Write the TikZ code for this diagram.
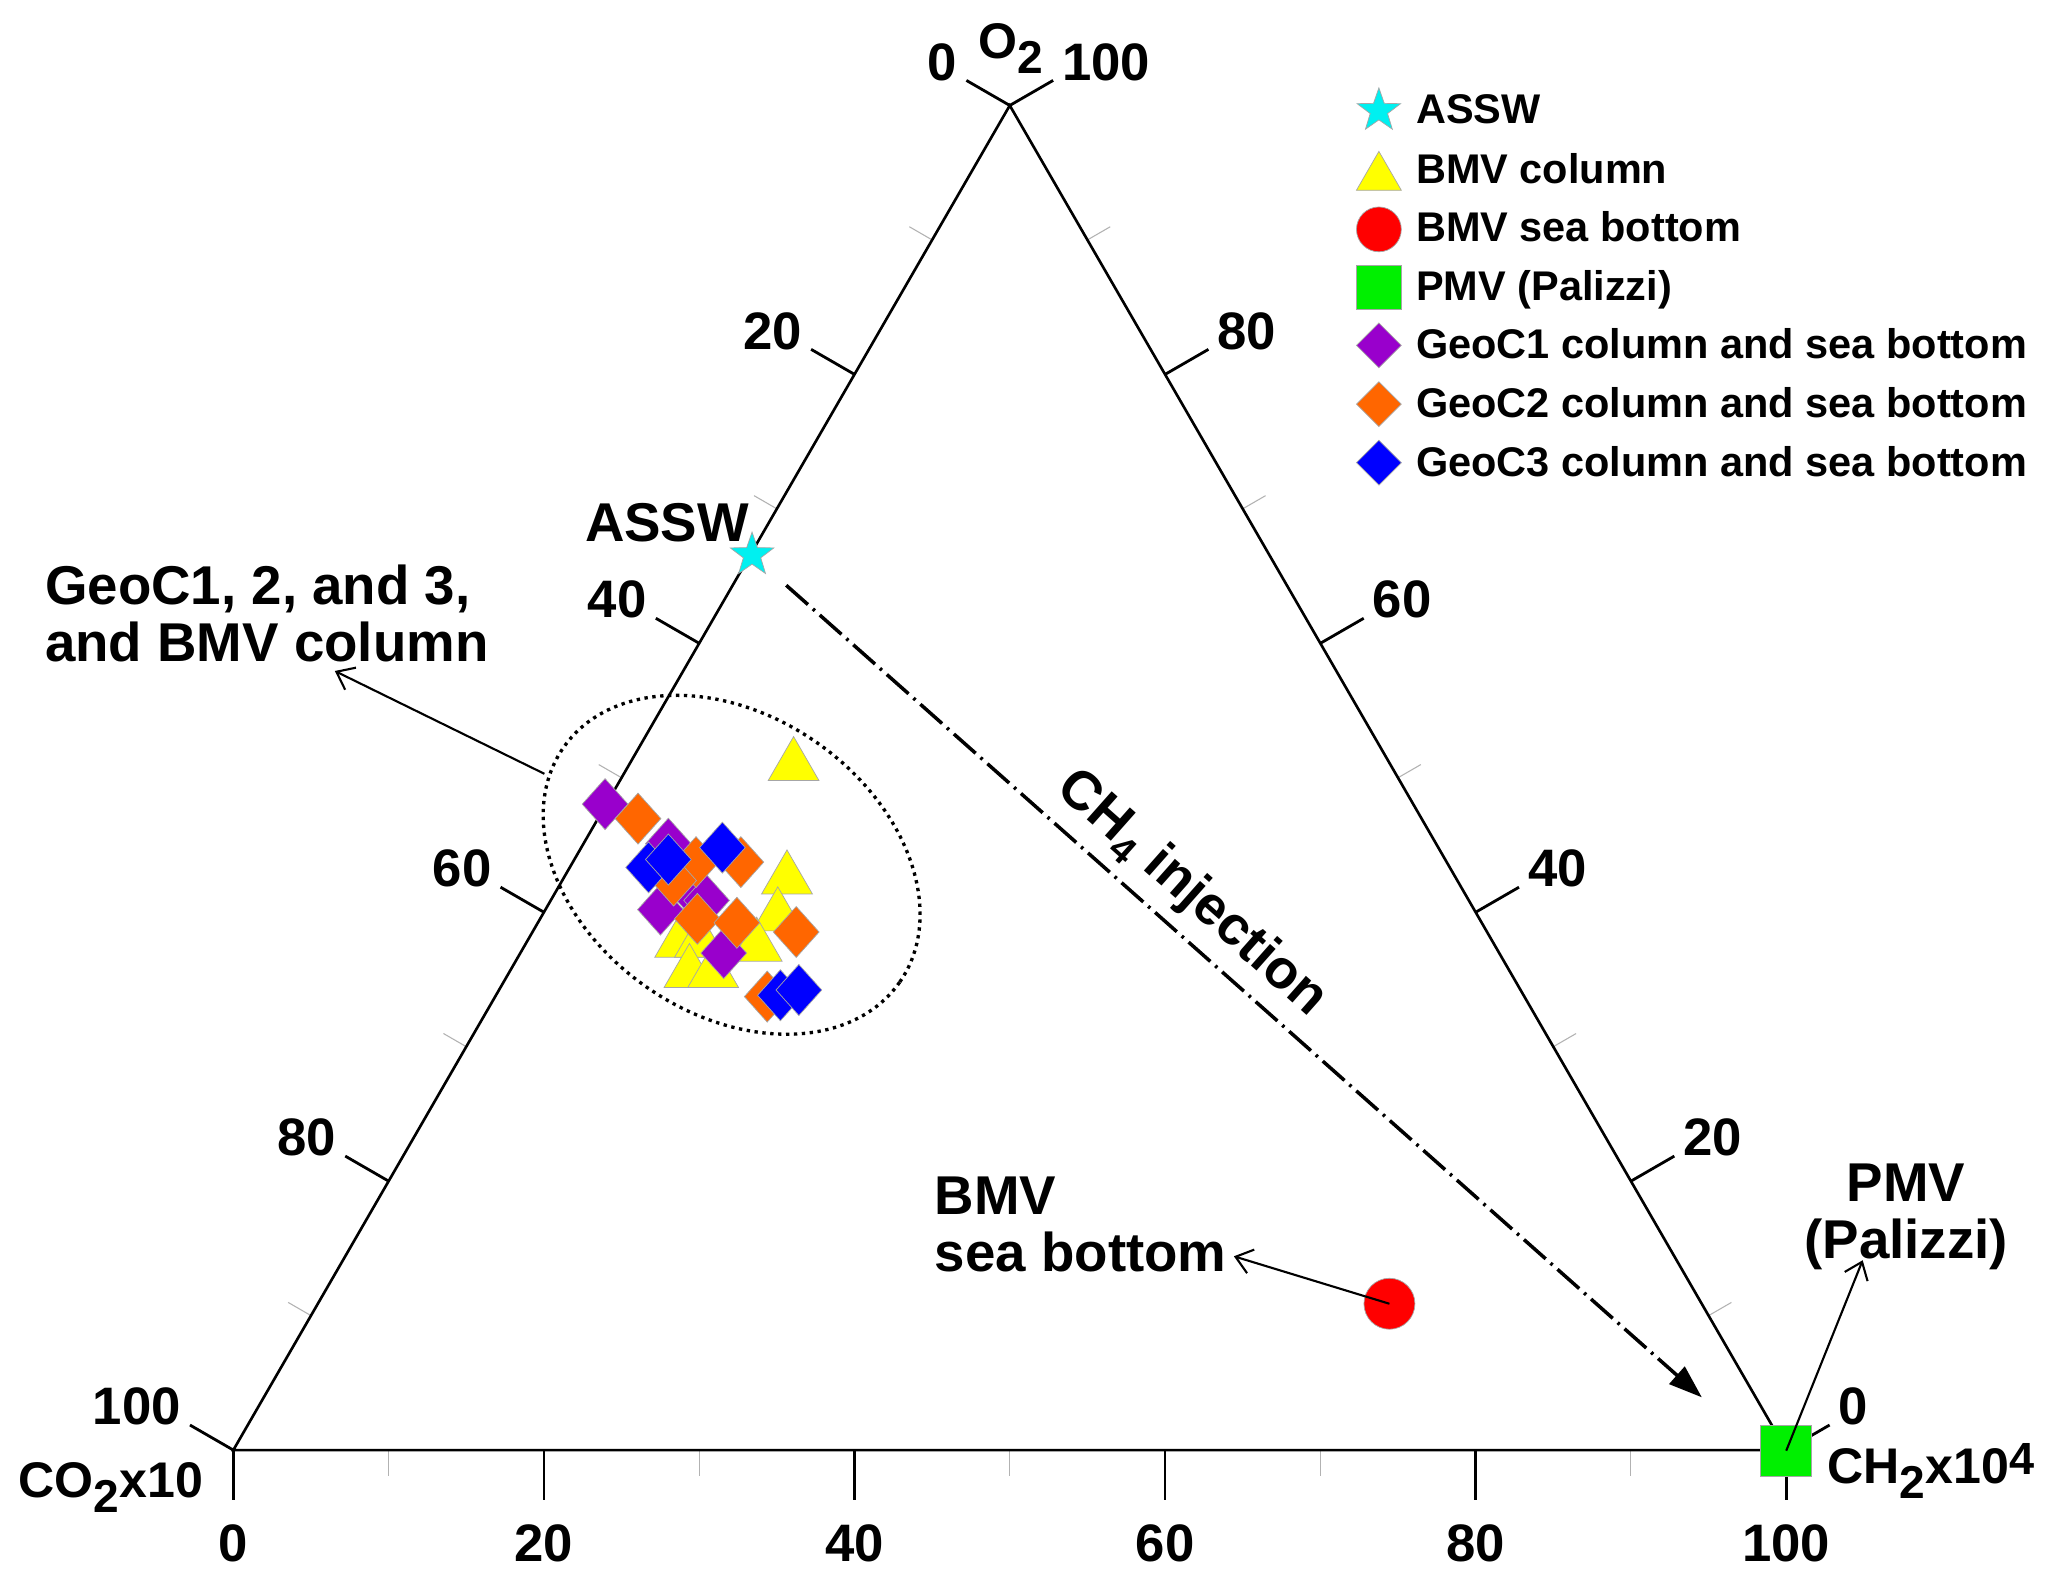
\documentclass[tikz,border=0pt]{standalone}
\usepackage{fontspec}
\setmainfont{Liberation Sans}
\usetikzlibrary{arrows.meta}
\usetikzlibrary{shapes.geometric}
\usetikzlibrary{calc}

\definecolor{asswcyan}{RGB}{0,240,240}
\definecolor{bmvyellow}{RGB}{255,255,0}
\definecolor{bmvred}{RGB}{255,0,0}
\definecolor{pmvgreen}{RGB}{0,240,0}
\definecolor{geoca}{RGB}{153,0,204}
\definecolor{geocb}{RGB}{255,102,0}
\definecolor{geocc}{RGB}{0,0,255}

\newcommand{\dsub}[1]{\raisebox{-0.3em}{\scalebox{0.92}{#1}}}
\newcommand{\usup}[1]{\raisebox{0.17em}{\scalebox{0.9}{#1}}}

\tikzset{
  axisline/.style={line width=1.5pt},
  majtick/.style={line width=1.6pt},
  mintick/.style={line width=0.6pt, gray!60},
  ticklbl/.style={font=\fontsize{30}{30}\selectfont\bfseries, inner sep=0pt},
  axname/.style={font=\fontsize{28.5}{28.5}\selectfont\bfseries, inner sep=0pt},
  annot/.style={font=\fontsize{31.1}{32.25}\selectfont\bfseries, inner sep=0pt},
  lgtxt/.style={font=\fontsize{23.6}{23.6}\selectfont\bfseries, inner sep=0pt, anchor=base west},
  mk/.style={draw=gray!70, line width=0.4pt, inner sep=0pt, outer sep=0pt},
  starmk/.style={mk, star, star points=5, star point ratio=2.5, minimum size=26pt, fill=asswcyan},
  trimk/.style={mk, regular polygon, regular polygon sides=3, fill=bmvyellow},
  circmk/.style={mk, circle, fill=bmvred},
  sqmk/.style={mk, rectangle, fill=pmvgreen},
  diamk/.style={mk, diamond},
  dotline/.style={line width=1.9pt, dash pattern=on 1.9pt off 2.6pt},
  ch4line/.style={line width=2pt, dash pattern=on 16.5pt off 3.75pt on 1.5pt off 3.75pt, shorten <=26pt, -{Triangle[length=19pt,width=13pt]}},
  pointer/.style={line width=1.2pt, -{Straight Barb[length=9pt,width=14pt]}},
}

\begin{document}
\begin{tikzpicture}[x=0.75pt,y=0.75pt,yscale=-1,xscale=1]
\useasboundingbox (0,0) rectangle (1568,1199);
\fill[white] (0,0) rectangle (1568,1199);

%Corners of the ternary triangle
\coordinate (A) at (177,1100);
\coordinate (B) at (1355,1100);
\coordinate (C) at (766,80);

%Minor ticks
\foreach \v [evaluate=\v as \f using \v/100] in {10,30,50,70,90}{
  \draw[mintick] ($(A)!\f!(B)$) -- ++(0,20);
  \draw[mintick] ($(C)!\f!(A)$) -- ++(-17.3,-10);
  \draw[mintick] ($(B)!\f!(C)$) -- ++(17.3,-10);
}

%Triangle
\draw[axisline] (A) -- (B) -- (C) -- cycle;

%Major ticks and numbers
\foreach \v [evaluate=\v as \f using \v/100] in {0,20,40,60,80,100}{
  \draw[majtick] ($(A)!\f!(B)$) -- ++(0,38);
  \node[ticklbl, anchor=north] (bt\v) at ($(A)!\f!(B)+(0,56)$) {\v};
  \draw[majtick] ($(C)!\f!(A)$) -- ++(-32.9,-19);
  \node[ticklbl, anchor=east] (lt\v) at ($(C)!\f!(A)+(-39.6,-33)$) {\v};
  \draw[majtick] ($(B)!\f!(C)$) -- ++(32.9,-19);
  \node[ticklbl, anchor=west] (rt\v) at ($(B)!\f!(C)+(39.6,-33)$) {\v};
}

%Corner names
\node[axname, anchor=base west] (o2lbl) at (742,44) {O\dsub{2}};
\node[axname, anchor=base west] (co2lbl) at (14,1136) {CO\dsub{2}x10};
\node[axname, anchor=base west] (ch2lbl) at (1386,1125) {CH\dsub{2}x10\usup{4}};

%Cluster
\draw[dotline, rotate around={35:(555,656)}] (555,656) ellipse (155.5 and 113);

%ASSW and CH4 injection
\node[starmk] (assw) at (570.5,421) {};
\coordinate (ch4tip) at (1291,1060);
\draw[ch4line] (assw.center) -- (ch4tip);
\node[annot, rotate=-41.55] (ch4lbl) at (904,678) {CH\textsubscript{4} injection};

%BMV column
\foreach \x/\y [count=\i] in {602/581, 597/667, 590/695, 516/715, 531/715, 574/718, 523/738, 541/738}
  \node[trimk, minimum size=33.4pt] (bc\i) at (\x,\y) {};

%GeoC1
\foreach \x/\y [count=\i] in {459/610, 507/640, 501/690, 528/680, 536/683, 549/723}
  \node[diamk, fill=geoca, minimum width=26pt, minimum height=29pt] (ga\i) at (\x,\y) {};
%GeoC2
\foreach \x/\y [count=\i] in {484/621, 528/654, 511/668, 562/654, 529/697, 559/700, 604/707, 582/756}
  \node[diamk, fill=geocb, minimum width=26pt, minimum height=29pt] (gb\i) at (\x,\y) {};
%GeoC3
\foreach \x/\y [count=\i] in {492/658, 507/652, 548/643, 592/755, 606/751}
  \node[diamk, fill=geocc, minimum width=26pt, minimum height=29pt] (gc\i) at (\x,\y) {};

%BMV sea bottom, PMV
\node[circmk, minimum size=29pt] (bmvsb) at (1054,989) {};
\node[sqmk, minimum size=29pt] (pmv) at (1355,1100.5) {};

%Labels
\node[annot, anchor=base] (asswlbl) at (506,411) {ASSW};
\node[annot, align=left, anchor=north west] (geolbl) at (34,428.6) {GeoC1, 2, and 3,\\and BMV column};
\node[annot, align=left, anchor=north west] (bmvlbl) at (709,892.6) {BMV\\sea bottom};
\node[annot, align=center, anchor=north] (pmvlbl) at (1446,882.5) {PMV\\(Palizzi)};

%Pointers
\coordinate (geotail) at (413,587);
\coordinate (geotip) at (254,509);
\draw[pointer] (geotail) -- (geotip);
\coordinate (bmvtip) at (936,953);
\draw[pointer] (bmvsb.center) -- (bmvtip);
\coordinate (pmvtip) at (1413,956);
\draw[pointer] (pmv.center) -- (pmvtip);

%Legend
\node[starmk] (lgassw) at (1046,84) {};
\node[lgtxt] (lgasswtxt) at (1074,94) {ASSW};
\node[trimk, minimum size=29.5pt] (lgcol) at (1046,134.5) {};
\node[lgtxt] (lgcoltxt) at (1074,139) {BMV column};
\node[circmk, minimum size=25.5pt] (lgsb) at (1046,174) {};
\node[lgtxt] (lgsbtxt) at (1074,183.3) {BMV sea bottom};
\node[sqmk, minimum size=25.5pt] (lgpmv) at (1046,218) {};
\node[lgtxt] (lgpmvtxt) at (1074,228) {PMV (Palizzi)};
\node[diamk, fill=geoca, minimum width=25.5pt, minimum height=25.5pt] (lgga) at (1046,262) {};
\node[lgtxt] (lggatxt) at (1074,272) {GeoC1 column and sea bottom};
\node[diamk, fill=geocb, minimum width=25.5pt, minimum height=25.5pt] (lggb) at (1046,306.6) {};
\node[lgtxt] (lggbtxt) at (1074,317) {GeoC2 column and sea bottom};
\node[diamk, fill=geocc, minimum width=25.5pt, minimum height=25.5pt] (lggc) at (1046,351) {};
\node[lgtxt] (lggctxt) at (1074,361.6) {GeoC3 column and sea bottom};

\end{tikzpicture}
\end{document}
